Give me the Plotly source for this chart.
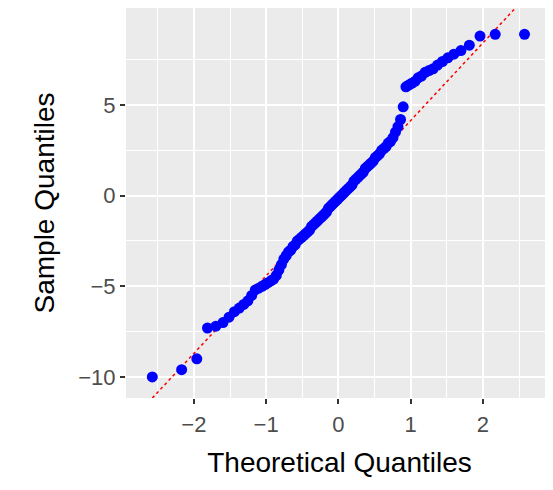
import plotly.graph_objects as go
from statistics import NormalDist
import numpy as np

sample = [-10.0,-9.6,-9.0,-7.3,-7.2,-7.0,-6.7,-6.4,-6.2,-6.0,-5.8,-5.5,-5.2,-5.1,-5.0,-4.9,-4.8,-4.7,-4.6,-4.4,
          -4.1,-3.8,-3.5,-3.3,-3.1,-3.0,-2.8,-2.7,-2.5,-2.4,-2.3,-2.2,-2.1,-2.0,-1.9,-1.7,-1.6,-1.5,-1.4,-1.3,
          -1.2,-1.1,-1.0,-0.9,-0.7,-0.6,-0.5,-0.4,-0.3,-0.2,-0.1,0.0,0.1,0.2,0.3,0.4,0.5,0.6,0.8,0.9,
          1.0,1.1,1.2,1.3,1.5,1.6,1.7,1.8,1.9,2.1,2.2,2.3,2.5,2.6,2.7,2.9,3.0,3.2,3.5,3.8,
          4.2,4.9,6.0,6.1,6.2,6.3,6.5,6.6,6.8,6.9,7.0,7.2,7.4,7.6,7.8,8.0,8.3,8.8,8.9,8.9]
x_ticks = [-2, -1, 0, 1, 2]
y_ticks = [-10, -5, 0, 5]

n = len(sample)
nd = NormalDist()
theo = [nd.inv_cdf((i + 0.5) / n) for i in range(n)]

# qqline through quartiles (R default)
yq = np.quantile(sample, [0.25, 0.75])
xq = [nd.inv_cdf(0.25), nd.inv_cdf(0.75)]
slope = (yq[1] - yq[0]) / (xq[1] - xq[0])
inter = yq[0] - slope * xq[0]
lx = [min(theo), max(theo)]
ly = [inter + slope * v for v in lx]

fig = go.Figure()
fig.add_trace(go.Scatter(x=lx, y=ly, mode="lines",
                         line=dict(color="red", width=1.5, dash="dot"), hoverinfo="skip"))
fig.add_trace(go.Scatter(x=theo, y=sample, mode="markers",
                         marker=dict(color="#0000FF", size=11, line=dict(width=0))))

axis_common = dict(showgrid=True, gridcolor="white", gridwidth=1.8, zeroline=False,
                   ticks="outside", ticklen=5, tickcolor="#333333", tickwidth=1.5,
                   tickfont=dict(size=22, color="#4D4D4D", family="Liberation Sans"),
                   showline=False, automargin=False)
fig.update_xaxes(range=[-2.94, 2.97], tickvals=x_ticks, ticklabelstandoff=2,
                 minor=dict(tickvals=[-2.5, -1.5, -0.5, 0.5, 1.5, 2.5], showgrid=True,
                            gridcolor="white", gridwidth=0.8, ticks=""),
                 title=dict(text="Theoretical Quantiles", font=dict(size=28, color="black", family="Liberation Sans")),
                 **axis_common)
fig.update_yaxes(range=[-11.16, 10.35], tickvals=y_ticks,
                 minor=dict(tickvals=[-7.5, -2.5, 2.5, 7.5], showgrid=True,
                            gridcolor="white", gridwidth=0.8, ticks=""),
                 title=dict(text="Sample Quantiles", font=dict(size=28, color="black", family="Liberation Sans")),
                 **axis_common)
fig.update_layout(width=553, height=490, showlegend=False,
                  plot_bgcolor="#EBEBEB", paper_bgcolor="white",
                  margin=dict(l=118, r=8, t=0, b=100, autoexpand=False),
                  font=dict(family="Liberation Sans"))
fig.write_html("out.html")
